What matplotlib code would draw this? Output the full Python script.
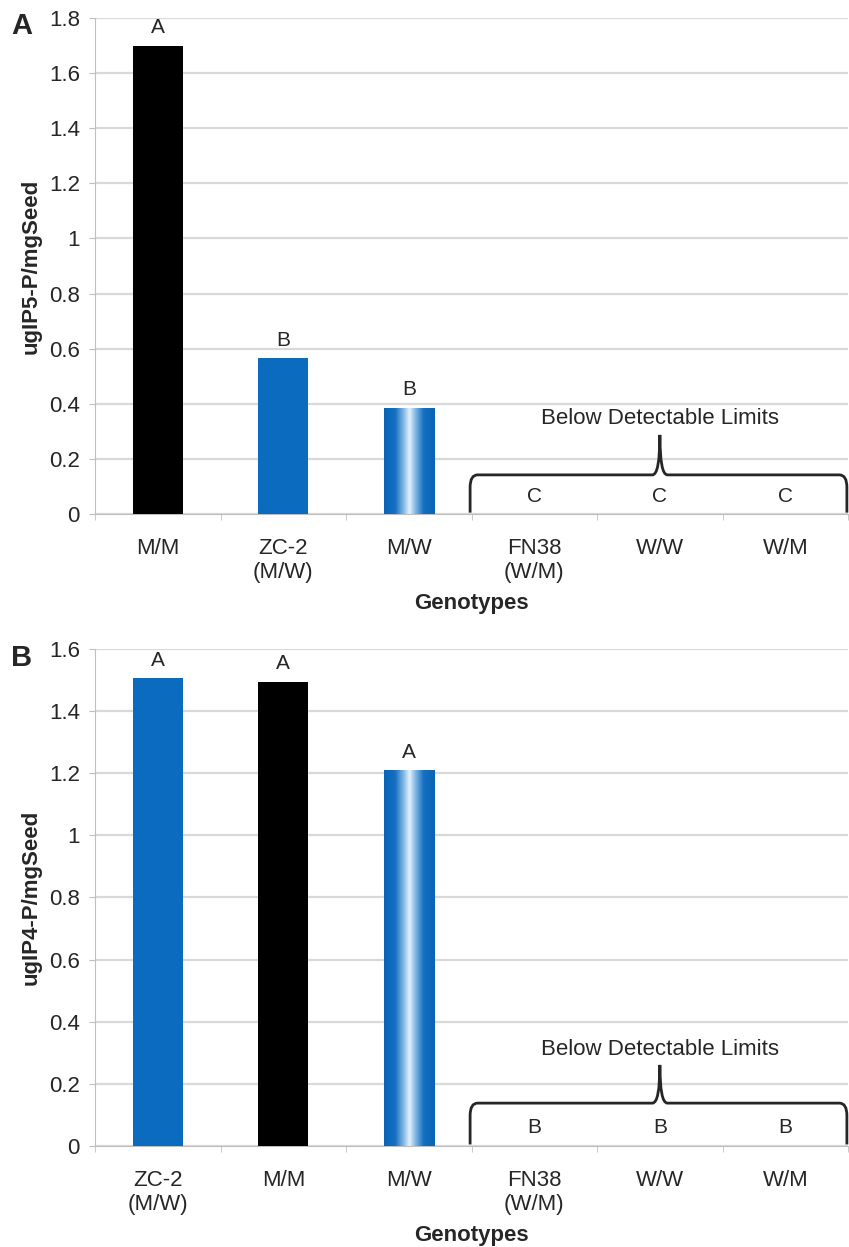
import matplotlib
matplotlib.use("Agg")
import matplotlib.pyplot as plt
import numpy as np
from matplotlib.colors import LinearSegmentedColormap
from matplotlib.path import Path
from matplotlib.patches import PathPatch

plt.rcParams['font.family'] = ['Liberation Sans', 'DejaVu Sans']

# Panel A data
cats_a = ["M/M", "ZC-2\n(M/W)", "M/W", "FN38\n(W/M)", "W/W", "W/M"]
vals_a = [1.70, 0.565, 0.385, 0, 0, 0]
styles_a = ["black", "blue", "grad", None, None, None]
letters_a = ["A", "B", "B", "C", "C", "C"]

# Panel B data
cats_b = ["ZC-2\n(M/W)", "M/M", "M/W", "FN38\n(W/M)", "W/W", "W/M"]
vals_b = [1.505, 1.495, 1.21, 0, 0, 0]
styles_b = ["blue", "black", "grad", None, None, None]
letters_b = ["A", "A", "A", "B", "B", "B"]

BLUE = "#0b6cbf"
TXT = "#262626"
grad_cmap = LinearSegmentedColormap.from_list(
    "g", [(0, "#0b63b5"), (0.22, "#1570c2"), (0.40, "#8fc0e8"), (0.5, "#e6f2fb"),
          (0.60, "#8fc0e8"), (0.78, "#1570c2"), (1, "#0b63b5")])

fig = plt.figure(figsize=(8.49, 12.47), dpi=100)
ax_a = fig.add_axes([0.112, 0.5878, 0.887, 0.3978])
ax_b = fig.add_axes([0.112, 0.0810, 0.887, 0.3986])

FS = 16


def draw(ax, cats, vals, styles, letters, ymax, ylabel, panel, panel_y,
         brace_y, tip_y, text_y, let_y):
    x = np.arange(len(cats))
    w = 0.4
    colors = ["black" if s == "black" else BLUE if s == "blue" else "none" for s in styles]
    bars = ax.bar(x, vals, width=w, color=colors, zorder=3)
    for b, s in zip(bars, styles):
        if s == "grad":
            x0, y0 = b.get_x(), b.get_y()
            im = ax.imshow(np.linspace(0, 1, 200).reshape(1, -1), cmap=grad_cmap,
                           extent=[x0, x0 + b.get_width(), y0, y0 + b.get_height()],
                           aspect="auto", zorder=3.5, interpolation="bilinear")
            im.set_clip_path(b)
    for xi, v, l, s in zip(x, vals, letters, styles):
        if s is None:
            ax.text(xi, let_y, l, ha="center", va="center", fontsize=15, color=TXT)
        else:
            ax.annotate(l, (xi, v), xytext=(0, 13), textcoords="offset points",
                        ha="center", va="center", fontsize=15, color=TXT)
    ax.set_xlim(-0.5, 5.5)
    ax.set_ylim(0, ymax)
    ticks = np.arange(0, ymax + 0.01, 0.2)
    ax.set_yticks(ticks)
    ax.set_yticklabels(["0" if abs(t) < 1e-9 else ("1" if abs(t - 1) < 1e-9 else f"{t:.1f}")
                        for t in ticks])
    ax.set_xticks(x)
    ax.set_xticklabels(cats, fontsize=FS, color=TXT, linespacing=1.2)
    ax.tick_params(axis="x", length=0, pad=17)
    ax.set_xticks(np.arange(-0.5, 5.6, 1), minor=True)
    ax.tick_params(axis="x", which="minor", length=4, color="#c0c0c0")
    ax.tick_params(axis="y", length=4, color="#c0c0c0", labelsize=FS, labelcolor=TXT, pad=7)
    ax.grid(axis="y", color="#d9d9d9", lw=1.6, zorder=0)
    ax.set_axisbelow(True)
    for sp in ["top", "right"]:
        ax.spines[sp].set_visible(False)
    ax.spines["left"].set_color("#bfbfbf")
    ax.spines["bottom"].set_color("#bfbfbf")
    ax.set_ylabel(ylabel, fontsize=FS, fontweight="bold", labelpad=5, color=TXT)
    ax.set_xlabel("Genotypes", fontsize=FS, fontweight="bold", labelpad=7, color=TXT)
    ax.text(-0.097, panel_y, panel, transform=ax.transAxes, fontsize=21, fontweight="bold",
            ha="center", va="center", color=TXT)
    # brace
    xl, xr, xm = 2.488, 5.49, 4.0
    r = 0.06
    yb = 0.005
    d = 0.025 * ymax
    verts = [(xl, yb), (xl, brace_y - d), (xl, brace_y), (xl + r, brace_y),
             (xm - r, brace_y), (xm, brace_y), (xm, tip_y),
             (xm, brace_y), (xm + r, brace_y),
             (xr - r, brace_y), (xr, brace_y), (xr, brace_y - d), (xr, yb)]
    codes = [Path.MOVETO, Path.LINETO, Path.CURVE3, Path.CURVE3,
             Path.LINETO, Path.CURVE3, Path.CURVE3,
             Path.CURVE3, Path.CURVE3,
             Path.LINETO, Path.CURVE3, Path.CURVE3, Path.LINETO]
    ax.add_patch(PathPatch(Path(verts, codes), fill=False, lw=2, color=TXT, zorder=4,
                           clip_on=False))
    ax.text(xm, text_y, "Below Detectable Limits", ha="center", va="center", fontsize=FS,
            color=TXT)


draw(ax_a, cats_a, vals_a, styles_a, letters_a, 1.8, "ugIP5-P/mgSeed", "A", 0.984,
     0.142, 0.287, 0.345, 0.062)
draw(ax_b, cats_b, vals_b, styles_b, letters_b, 1.6, "ugIP4-P/mgSeed", "B", 0.982,
     0.138, 0.261, 0.312, 0.058)

fig.savefig("out.png", dpi=100)
